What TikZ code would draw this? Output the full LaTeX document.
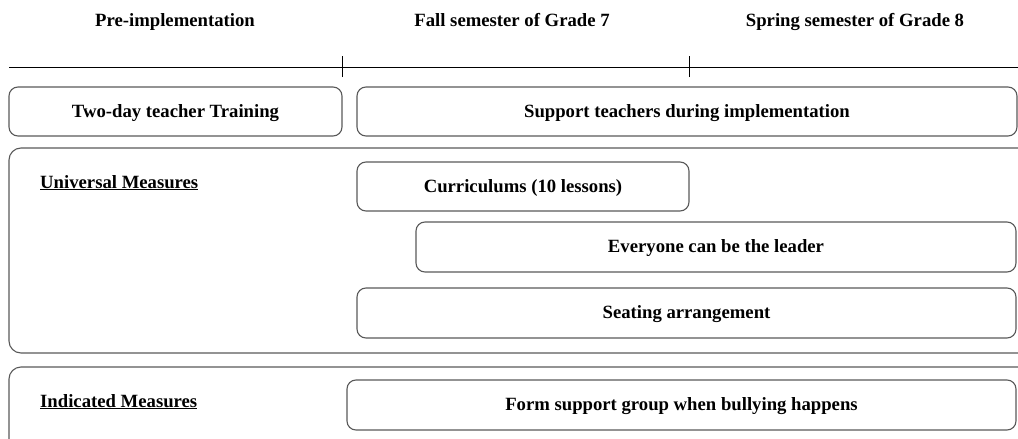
\documentclass[tikz,border=0pt]{standalone}
\usepackage{fontspec}
\setmainfont{Liberation Serif}
\begin{document}
\begin{tikzpicture}[x=1pt,y=-1pt,
    phase/.style={font=\bfseries\fontsize{18.7}{22}\selectfont,anchor=base},
    stagebox/.style={draw=black!65,line width=1.1pt,rounded corners=9pt,inner sep=0pt,
        font=\bfseries\fontsize{18.7}{22}\selectfont,text height=14pt,text depth=2.5pt},
    groupbox/.style={draw=black!65,line width=1.1pt,rounded corners=12pt,inner sep=0pt},
    grouplabel/.style={font=\bfseries\fontsize{18.7}{22}\selectfont,anchor=base west,inner sep=0pt}]
  \useasboundingbox (0,0) rectangle (1018,439);
  \clip (0,0) rectangle (1018,439);

  % phases along the top
  \node[phase] (pre) at (175,27) {Pre-implementation};
  \node[phase] (fall) at (512,27) {Fall semester of Grade 7};
  \node[phase] (spring) at (855,27) {Spring semester of Grade 8};

  % timeline
  \coordinate (tlstart) at (9,67);
  \coordinate (tlend) at (1018,67);
  \coordinate (tickA) at (342,67);
  \coordinate (tickB) at (689,67);
  \draw[line width=1pt] (tlstart) -- (tlend);
  \draw[line width=1pt] ([yshift=-10pt]tickA) -- ([yshift=11pt]tickA);
  \draw[line width=1pt] ([yshift=-10pt]tickB) -- ([yshift=11pt]tickB);

  % teacher support
  \node[stagebox,minimum width=333pt,minimum height=49pt] (training) at (175.5,111.5) {Two-day teacher Training};
  \node[stagebox,minimum width=660pt,minimum height=49pt] (support) at (687,111.5) {Support teachers during implementation};

  % universal measures
  \node[groupbox,minimum width=1030pt,minimum height=205pt] (universal) at (524,250.5) {};
  \node[grouplabel] (unilabel) at (40,188) {\underline{Universal Measures}};
  \node[stagebox,minimum width=332pt,minimum height=49pt] (curriculum) at (523,186.5) {Curriculums (10 lessons)};
  \node[stagebox,minimum width=600pt,minimum height=50pt] (leader) at (716,247) {Everyone can be the leader};
  \node[stagebox,minimum width=659pt,minimum height=50pt] (seating) at (686.5,313) {Seating arrangement};

  % indicated measures
  \node[groupbox,minimum width=1030pt,minimum height=100pt] (indicated) at (524,417) {};
  \node[grouplabel] (indlabel) at (40,407) {\underline{Indicated Measures}};
  \node[stagebox,minimum width=669pt,minimum height=50pt] (supportgroup) at (681.5,405) {Form support group when bullying happens};
\end{tikzpicture}
\end{document}
